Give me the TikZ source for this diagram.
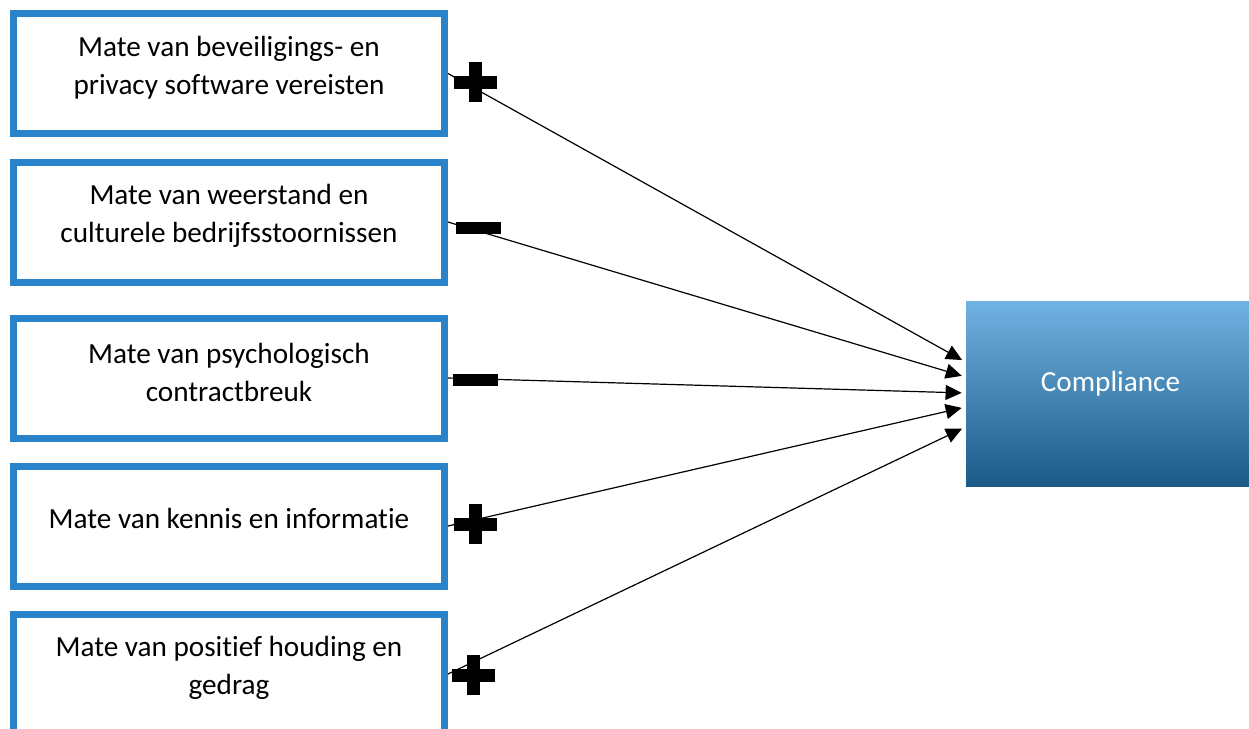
\documentclass[tikz,border=0pt]{standalone}
\usepackage{fontspec}
\setmainfont[Ligatures=NoCommon]{Carlito}
\usetikzlibrary{arrows.meta,calc}

\definecolor{boxblue}{HTML}{2A82C8}
\definecolor{comptop}{HTML}{70B2E2}
\definecolor{compmid}{HTML}{2A86CB}
\definecolor{compbot}{HTML}{1C5A88}

\tikzset{
  factor/.style={draw=boxblue, line width=3.5pt, fill=white,
    minimum width=215.5pt, minimum height=60pt, inner sep=0pt},
  ftext/.style={align=center, font=\fontsize{14.6}{19}\selectfont},
  link/.style={-{Triangle[length=8pt,width=7.5pt]}, line width=0.6pt, shorten >=2pt},
  plussign/.pic={
    \fill (-21.5,-6.5) rectangle (21.5,6.5);
    \fill (-6.5,-20) rectangle (6.5,20);
  },
  minsign/.pic={
    \fill (-22.5,-6) rectangle (22.5,6);
  },
}

\begin{document}
\begin{tikzpicture}[x=0.5pt, y=-0.5pt]
  \clip (0,0) rectangle (1249,729);

  % factoren links
  \node[factor] (f1) at (229,73.5) {};
  \node[factor] (f2) at (229,222) {};
  \node[factor] (f3) at (229,378) {};
  \node[factor] (f4) at (229,526) {};
  \node[factor] (f5) at (229,674) {};

  \node[ftext] (t1) at ($(f1)+(0,-6)$) {Mate van beveiligings- en\\privacy software vereisten};
  \node[ftext] (t2) at ($(f2)+(0,-6)$) {Mate van weerstand en\\culturele bedrijfsstoornissen};
  \node[ftext] (t3) at ($(f3)+(0,-6)$) {Mate van psychologisch\\contractbreuk};
  \node[ftext] (t4) at ($(f4)+(0,-8)$) {Mate van kennis en informatie};
  \node[ftext] (t5) at ($(f5)+(0,-6)$) {Mate van positief houding en\\gedrag};

  % uitkomst
  \node[top color=comptop, middle color=compmid, bottom color=compbot,
    minimum width=144.5pt, minimum height=92.5pt, inner sep=0pt] (comp) at (1110.5,393.5) {};
  \node[ftext, text=white] (tc) at ($(comp)+(0,-9.5)$) {Compliance};

  \draw[link] (f1.east) -- ($(comp.west)+(0,-31.5)$);
  \draw[link] (f2.east) -- ($(comp.west)+(0,-16.5)$);
  \draw[link] (f3.east) -- ($(comp.west)+(0,-0.5)$);
  \draw[link] (f4.east) -- ($(comp.west)+(0,13.5)$);
  \draw[link] (f5.east) -- ($(comp.west)+(0,33.5)$);

  % plus en min
  \pic at (475,82) {plussign};
  \pic at (478,228) {minsign};
  \pic at (475,380) {minsign};
  \pic at (475,524) {plussign};
  \pic at (473,675) {plussign};
\end{tikzpicture}
\end{document}
